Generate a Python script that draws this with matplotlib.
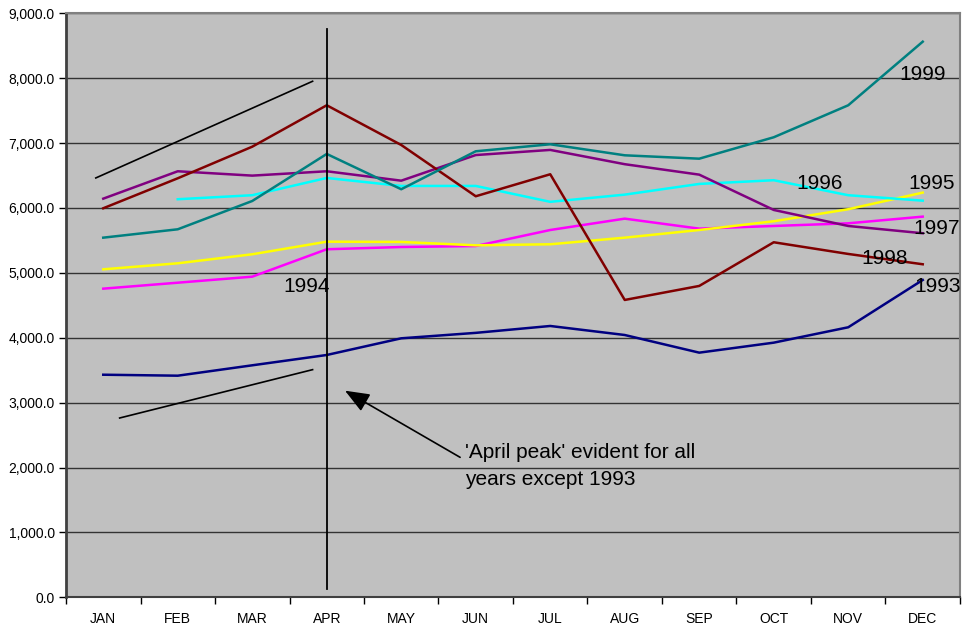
import numpy as np
import matplotlib
matplotlib.use("Agg")
import matplotlib.pyplot as plt
from matplotlib.ticker import FuncFormatter, MultipleLocator

plt.rcParams["font.family"] = ["Liberation Sans", "DejaVu Sans"]

months = ["JAN", "FEB", "MAR", "APR", "MAY", "JUN",
          "JUL", "AUG", "SEP", "OCT", "NOV", "DEC"]

# monthly values
y1993 = [3430, 3415, 3575, 3734, 3991, 4075, 4181, 4042, 3770, 3924, 4161, 4890]
y1994 = [4756, 4848, 4941, 5363, 5398, 5413, 5660, 5835, 5681, 5722, 5763, 5866]
y1995 = [5054, 5147, 5286, 5480, 5476, 5424, 5440, 5542, 5660, 5795, 5980, 6236]
y1996 = [np.nan, 6134, 6196, 6462, 6339, 6339, 6094, 6205, 6370, 6427, 6196, 6112]
y1997 = [6143, 6565, 6498, 6565, 6420, 6815, 6894, 6674, 6513, 5969, 5722, 5610]
y1998 = [5995, 6457, 6944, 7582, 6970, 6180, 6519, 4582, 4798, 5471, 5291, 5132]
y1999 = [5542, 5671, 6107, 6832, 6288, 6873, 6981, 6811, 6759, 7089, 7582, 8562]

series = [
    ("1993", y1993, "#000080"),
    ("1994", y1994, "#FF00FF"),
    ("1995", y1995, "#FFFF00"),
    ("1996", y1996, "#00FFFF"),
    ("1997", y1997, "#800080"),
    ("1998", y1998, "#800000"),
    ("1999", y1999, "#008080"),
]

# label positions (month index, baseline value)
labels = {
    "1993": (11.2, 4700),
    "1994": (2.725, 4700),
    "1995": (11.12, 6297),
    "1996": (9.62, 6297),
    "1997": (11.19, 5594),
    "1998": (10.49, 5132),
    "1999": (11.0, 7971),
}

# hand-drawn trend lines and marker line
upper_trend = ([-0.1, 2.81], [6462, 7952])
lower_trend = ([0.22, 2.81], [2763, 3508])
april_line = ([3, 3], [123, 8758])

fig = plt.figure(figsize=(9.65, 6.31), dpi=100)
ax = fig.add_axes([0.0684, 0.0534, 0.9264, 0.9256])
ax.set_facecolor("#C0C0C0")

x = np.arange(len(months))
for name, vals, color in series:
    ax.plot(x, vals, color=color, lw=1.8, zorder=3)

for name, (lx, ly) in labels.items():
    ax.text(lx, ly, name, fontsize=15, ha="center", va="baseline", zorder=5)

ax.plot(*upper_trend, color="black", lw=1.2, zorder=4)
ax.plot(*lower_trend, color="black", lw=1.2, zorder=4)
ax.plot(*april_line, color="black", lw=1.3, zorder=4)

ax.annotate("", xy=(3.245, 3184), xytext=(4.79, 2157),
            arrowprops=dict(arrowstyle="-|>,head_length=1.5,head_width=0.6",
                            color="black", lw=1.2, shrinkA=0, shrinkB=0),
            zorder=5)
ax.text(4.85, 2151, "'April peak' evident for all",
        fontsize=15, ha="left", va="baseline", zorder=5)
ax.text(4.85, 1731, "years except 1993",
        fontsize=15, ha="left", va="baseline", zorder=5)

ax.set_xlim(-0.5, 11.5)
ax.set_ylim(0, 9000)
ax.yaxis.set_major_locator(MultipleLocator(1000))
ax.yaxis.set_major_formatter(FuncFormatter(lambda v, p: f"{v:,.1f}"))
ax.grid(axis="y", color="#333333", lw=1.0, zorder=1)
ax.set_axisbelow(True)

ax.set_xticks(x)
ax.set_xticklabels(months)
ax.set_xticks(np.arange(-0.5, 12, 1), minor=True)
ax.tick_params(axis="x", which="major", length=0, pad=10.5, labelsize=10)
ax.tick_params(axis="x", which="minor", length=5, width=1, direction="out")
ax.tick_params(axis="y", length=5, width=1, direction="out", labelsize=10, pad=3)

for side in ["top", "right"]:
    ax.spines[side].set_color("#808080")
    ax.spines[side].set_linewidth(1.5)
ax.spines["left"].set_color("#404040")
ax.spines["left"].set_linewidth(2)
ax.spines["bottom"].set_color("#404040")
ax.spines["bottom"].set_linewidth(1.5)

fig.savefig("out.png", dpi=100)
